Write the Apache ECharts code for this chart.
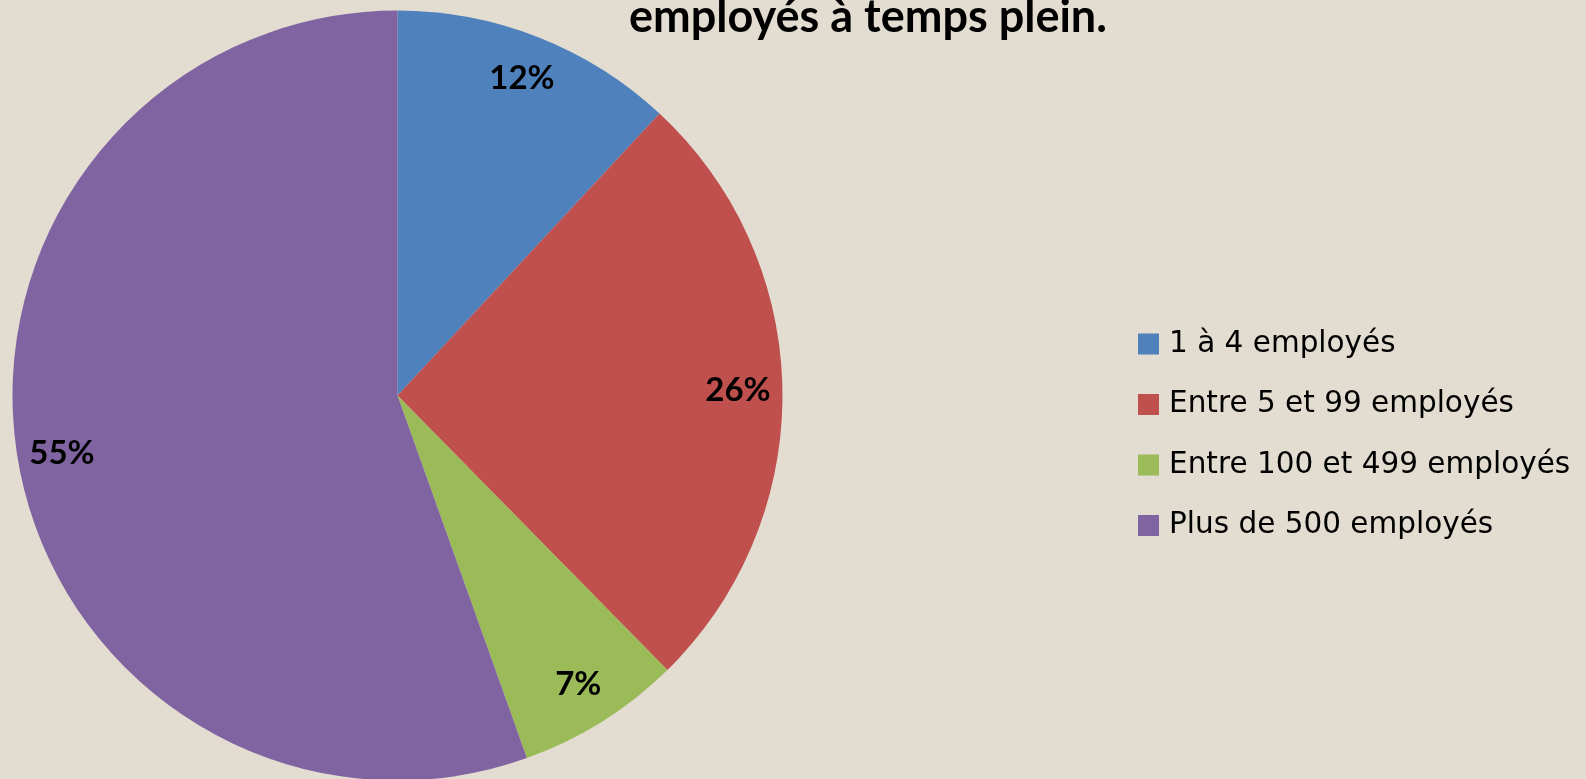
<!DOCTYPE html>
<html>
<head>
<meta charset="utf-8">
<script src="https://cdn.jsdelivr.net/npm/echarts@6/dist/echarts.min.js"></script>
<style>
html,body{margin:0;padding:0;background:#e3dcd0;}
#chart{width:1586px;height:779px;}
</style>
</head>
<body>
<div id="chart"></div>
<script>
const categories = ['1 à 4 employés', 'Entre 5 et 99 employés', 'Entre 100 et 499 employés', 'Plus de 500 employés'];
const values = [11.9, 25.7, 6.9, 55.4];
const labels = ['12%', '26%', '7%', '55%'];
const colors = ['#4f81bd', '#c0504d', '#9bbb59', '#8064a2'];
const titleText = 'employés à temps plein.';

const FONT = 'Lato, "Open Sans", sans-serif';
const data = categories.map((c, i) => ({ name: c, value: values[i], itemStyle: { color: colors[i] } }));

const chart = echarts.init(document.getElementById('chart'));
chart.setOption({
  backgroundColor: '#e3dcd0',
  animation: false,
  title: {
    text: titleText,
    left: 868, top: -5, padding: 0,
    textAlign: 'center',
    textStyle: { fontFamily: FONT, fontWeight: 'bold', fontSize: 45, color: '#000' }
  },
  legend: {
    orient: 'vertical',
    left: 1138, top: 329, padding: 0,
    itemWidth: 21, itemHeight: 21, itemGap: 30.5,
    icon: 'rect',
    textStyle: { fontFamily: '"DejaVu Sans", sans-serif', fontSize: 29.5, color: '#000', padding: [0, 0, 0, 5] },
    data: categories
  },
  series: [
    {
      type: 'pie',
      center: [397.5, 395.5],
      radius: [0, 385],
      startAngle: 90,
      clockwise: true,
      silent: true,
      label: { show: false },
      labelLine: { show: false },
      itemStyle: { borderWidth: 0 },
      data: data
    },
    {
      type: 'pie',
      center: [397.5, 395.5],
      radius: [290, 385],
      startAngle: 90,
      clockwise: true,
      silent: true,
      itemStyle: { color: 'rgba(0,0,0,0)', borderWidth: 0 },
      label: {
        show: true,
        position: 'inside',
        formatter: p => labels[p.dataIndex],
        fontFamily: FONT, fontWeight: 'bold', fontSize: 33, color: '#000'
      },
      labelLine: { show: false },
      data: categories.map((c, i) => ({ name: c, value: values[i] }))
    }
  ]
});
</script>
</body>
</html>
